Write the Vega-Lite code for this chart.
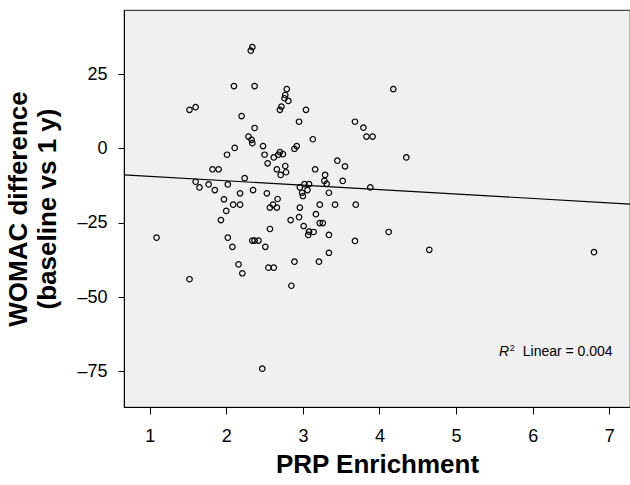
{
  "$schema": "https://vega.github.io/schema/vega-lite/v6.json",
  "width": 506,
  "height": 397,
  "autosize": "none",
  "padding": {"left": 124, "top": 10, "right": 0, "bottom": 78},
  "background": "white",
  "config": {
    "font": "Liberation Sans",
    "view": {"fill": "#f0f0f0", "stroke": "#444444", "strokeWidth": 1.2},
    "axis": {"grid": false, "domainColor": "black", "tickColor": "black", "labelColor": "black", "titleColor": "black", "labelFont": "Liberation Sans", "titleFont": "Liberation Sans"}
  },
  "datasets": {
    "pts": [
      {"enrichment": 2.32, "womac": 32.9}, {"enrichment": 2.34, "womac": 34.1}, {"enrichment": 2.10, "womac": 21.0}, {"enrichment": 2.37, "womac": 21.0},
      {"enrichment": 1.52, "womac": 13.0}, {"enrichment": 1.60, "womac": 13.9}, {"enrichment": 2.20, "womac": 10.9}, {"enrichment": 2.37, "womac": 6.9},
      {"enrichment": 2.29, "womac": 4.0}, {"enrichment": 2.33, "womac": 2.9}, {"enrichment": 2.34, "womac": 1.8}, {"enrichment": 2.11, "womac": 0.2},
      {"enrichment": 2.01, "womac": -2.1}, {"enrichment": 2.48, "womac": 0.8}, {"enrichment": 2.50, "womac": -2.1}, {"enrichment": 2.54, "womac": -5.0},
      {"enrichment": 2.62, "womac": -3.0}, {"enrichment": 2.68, "womac": -2.1}, {"enrichment": 2.70, "womac": -1.2}, {"enrichment": 2.74, "womac": -1.9},
      {"enrichment": 1.82, "womac": -7.0}, {"enrichment": 1.90, "womac": -7.0}, {"enrichment": 1.60, "womac": -11.2}, {"enrichment": 1.65, "womac": -13.1},
      {"enrichment": 1.77, "womac": -12.1}, {"enrichment": 1.85, "womac": -14.0}, {"enrichment": 2.02, "womac": -12.1}, {"enrichment": 2.24, "womac": -10.0},
      {"enrichment": 2.35, "womac": -14.0}, {"enrichment": 2.18, "womac": -15.1}, {"enrichment": 1.97, "womac": -17.1}, {"enrichment": 2.09, "womac": -18.9},
      {"enrichment": 2.18, "womac": -18.9}, {"enrichment": 2.53, "womac": -15.1}, {"enrichment": 2.66, "womac": -7.0},
      {"enrichment": 2.79, "womac": 20.0}, {"enrichment": 2.77, "womac": 18.0}, {"enrichment": 2.76, "womac": 16.9}, {"enrichment": 2.81, "womac": 16.0},
      {"enrichment": 2.70, "womac": 13.0}, {"enrichment": 2.72, "womac": 14.1}, {"enrichment": 3.04, "womac": 13.0}, {"enrichment": 2.95, "womac": 9.0},
      {"enrichment": 3.13, "womac": 3.1}, {"enrichment": 4.18, "womac": 20.0}, {"enrichment": 3.68, "womac": 9.0}, {"enrichment": 3.79, "womac": 7.0},
      {"enrichment": 3.83, "womac": 4.0}, {"enrichment": 3.91, "womac": 4.0}, {"enrichment": 4.35, "womac": -3.0}, {"enrichment": 2.89, "womac": -0.1},
      {"enrichment": 2.92, "womac": 0.8}, {"enrichment": 2.77, "womac": -5.9}, {"enrichment": 2.78, "womac": -8.0}, {"enrichment": 2.71, "womac": -8.9},
      {"enrichment": 3.16, "womac": -7.0}, {"enrichment": 3.45, "womac": -4.1}, {"enrichment": 3.55, "womac": -6.0}, {"enrichment": 3.29, "womac": -8.9},
      {"enrichment": 3.28, "womac": -10.9}, {"enrichment": 3.31, "womac": -11.9}, {"enrichment": 3.52, "womac": -10.9}, {"enrichment": 3.02, "womac": -12.0},
      {"enrichment": 3.08, "womac": -12.0}, {"enrichment": 2.96, "womac": -13.1}, {"enrichment": 3.06, "womac": -14.0}, {"enrichment": 2.99, "womac": -14.9},
      {"enrichment": 3.00, "womac": -16.0}, {"enrichment": 3.34, "womac": -14.9}, {"enrichment": 3.88, "womac": -13.1}, {"enrichment": 2.67, "womac": -17.0},
      {"enrichment": 2.96, "womac": -19.9}, {"enrichment": 3.22, "womac": -18.9}, {"enrichment": 3.42, "womac": -18.9}, {"enrichment": 3.69, "womac": -18.9},
      {"enrichment": 2.61, "womac": -18.9}, {"enrichment": 2.66, "womac": -19.9}, {"enrichment": 2.57, "womac": -19.9},
      {"enrichment": 1.09, "womac": -30.0}, {"enrichment": 1.52, "womac": -44.0}, {"enrichment": 1.93, "womac": -24.1}, {"enrichment": 2.00, "womac": -21.0},
      {"enrichment": 2.02, "womac": -30.0}, {"enrichment": 2.08, "womac": -33.1}, {"enrichment": 2.16, "womac": -39.0}, {"enrichment": 2.21, "womac": -42.0},
      {"enrichment": 2.34, "womac": -31.0}, {"enrichment": 2.37, "womac": -31.0}, {"enrichment": 2.42, "womac": -31.0}, {"enrichment": 2.51, "womac": -33.1},
      {"enrichment": 2.57, "womac": -27.1}, {"enrichment": 2.55, "womac": -40.1}, {"enrichment": 2.62, "womac": -40.1}, {"enrichment": 2.47, "womac": -74.1},
      {"enrichment": 2.84, "womac": -24.1}, {"enrichment": 2.95, "womac": -23.1}, {"enrichment": 3.01, "womac": -26.1}, {"enrichment": 3.08, "womac": -28.0},
      {"enrichment": 3.07, "womac": -29.1}, {"enrichment": 3.14, "womac": -28.1}, {"enrichment": 3.17, "womac": -22.1}, {"enrichment": 3.22, "womac": -25.1},
      {"enrichment": 3.26, "womac": -25.1}, {"enrichment": 3.34, "womac": -29.1}, {"enrichment": 3.68, "womac": -31.1}, {"enrichment": 3.34, "womac": -35.1},
      {"enrichment": 3.21, "womac": -38.1}, {"enrichment": 2.89, "womac": -38.1}, {"enrichment": 2.85, "womac": -46.2}, {"enrichment": 4.12, "womac": -28.1},
      {"enrichment": 4.65, "womac": -34.1}, {"enrichment": 6.80, "womac": -34.9}
    ],
    "fit": [
      {"enrichment": 0.665, "womac": -8.9},
      {"enrichment": 7.27, "womac": -18.7}
    ]
  },
  "layer": [
    {
      "data": {"name": "pts"},
      "mark": {"type": "point", "shape": "circle", "filled": false, "stroke": "black", "strokeWidth": 1.2, "size": 30, "opacity": 1},
      "encoding": {
        "x": {
          "field": "enrichment", "type": "quantitative",
          "scale": {"domain": [0.665, 7.27], "nice": false, "zero": false},
          "axis": {"values": [1, 2, 3, 4, 5, 6, 7], "format": "d", "tickSize": 7, "labelFontSize": 18, "labelPadding": 13, "title": "PRP Enrichment", "titleFontSize": 26, "titleFontWeight": "bold", "titlePadding": 6}
        },
        "y": {
          "field": "womac", "type": "quantitative",
          "scale": {"domain": [-87.0, 46.6], "nice": false, "zero": false},
          "axis": {"values": [-75, -50, -25, 0, 25], "labelExpr": "datum.value < 0 ? '–' + abs(datum.value) : '' + datum.value", "tickSize": 6, "labelFontSize": 18, "labelPadding": 11, "title": ["WOMAC difference", "(baseline vs 1 y)"], "titleFontSize": 26, "titleFontWeight": "bold", "titleLineHeight": 29, "titlePadding": 16}
        }
      }
    },
    {
      "data": {"name": "fit"},
      "mark": {"type": "line", "color": "black", "strokeWidth": 1.2, "clip": true},
      "encoding": {
        "x": {"field": "enrichment", "type": "quantitative"},
        "y": {"field": "womac", "type": "quantitative"}
      }
    },
    {
      "data": {"values": [{"label": "R"}]},
      "mark": {"type": "text", "align": "left", "baseline": "alphabetic", "fontSize": 14, "fontStyle": "italic", "color": "black"},
      "encoding": {"x": {"datum": 5.56}, "y": {"datum": -69.9}, "text": {"field": "label"}}
    },
    {
      "data": {"values": [{"label": "2"}]},
      "mark": {"type": "text", "align": "left", "baseline": "alphabetic", "fontSize": 9, "dy": -5, "color": "black"},
      "encoding": {"x": {"datum": 5.70}, "y": {"datum": -69.9}, "text": {"field": "label"}}
    },
    {
      "data": {"values": [{"label": "Linear = 0.004"}]},
      "mark": {"type": "text", "align": "left", "baseline": "alphabetic", "fontSize": 14, "color": "black"},
      "encoding": {"x": {"datum": 5.87}, "y": {"datum": -69.9}, "text": {"field": "label"}}
    }
  ]
}
